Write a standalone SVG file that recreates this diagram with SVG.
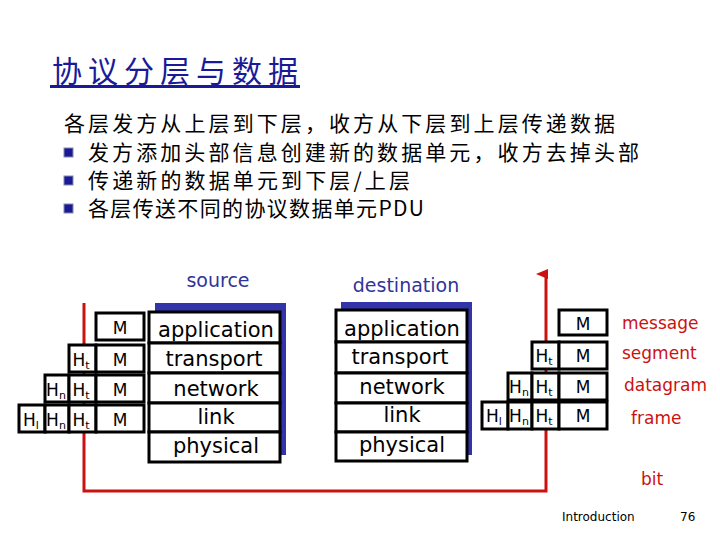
<svg xmlns="http://www.w3.org/2000/svg" width="720" height="540" viewBox="0 0 720 540">
<style>
.cn{font-family:"Noto Sans CJK SC","Liberation Sans",sans-serif;fill:#000}
.t{font-family:"DejaVu Sans","Liberation Sans",sans-serif}
.box{fill:#fff;stroke:#000;stroke-width:3}
.sh{fill:#3333aa}
.lay{font-family:"DejaVu Sans",sans-serif;font-size:21px;text-anchor:middle}
.h{font-family:"DejaVu Sans",sans-serif;font-size:17px;text-anchor:middle}
.red{font-family:"DejaVu Sans",sans-serif;font-size:17px;fill:#cc1111}
.bl{fill:#1a1a99;stroke:#8888aa;stroke-width:1}
</style>
<defs>
<marker id="ar" markerWidth="10" markerHeight="12" refX="5" refY="10" orient="auto" markerUnits="userSpaceOnUse"><path d="M0,12 L5,0 L10,12 Z" fill="#cc1111"/></marker>
</defs>
<g id="title">
<text x="52" y="82" class="cn" style="fill:#1a1a99" font-size="30" textLength="246">协议分层与数据</text>
<rect x="50" y="85" width="250" height="3" fill="#1a1a99"/>
</g>
<g id="bullets">
<text x="64" y="131" class="cn" font-size="21" textLength="551">各层发方从上层到下层，收方从下层到上层传递数据</text>
<rect x="64" y="148" width="9" height="9" class="bl"/>
<text x="88" y="160" class="cn" font-size="21" textLength="551">发方添加头部信息创建新的数据单元，收方去掉头部</text>
<rect x="64" y="176" width="9" height="9" class="bl"/>
<text x="88" y="188" class="cn" font-size="21" textLength="322">传递新的数据单元到下层/上层</text>
<rect x="64" y="204" width="9" height="9" class="bl"/>
<text x="88" y="216" class="cn" font-size="21" textLength="336">各层传送不同的协议数据单元PDU</text>
</g>
<g id="connectors" fill="none" stroke="#cc1111" stroke-width="3">
<polyline points="84,303 84,491 546,491 546,274" marker-end="url(#ar)"/>
</g>
<g id="source">
<text x="218" y="287" class="t" font-size="19" text-anchor="middle" fill="#333399">source</text>
<rect x="155" y="303" width="131" height="152" class="sh"/>
<rect x="149" y="312" width="131" height="31" class="box"/>
<rect x="149" y="343" width="131" height="30" class="box"/>
<rect x="149" y="373" width="131" height="30" class="box"/>
<rect x="149" y="403" width="131" height="29" class="box"/>
<rect x="149" y="432" width="131" height="30" class="box"/>
<text x="216" y="337" class="lay">application</text>
<text x="214" y="366" class="lay">transport</text>
<text x="216" y="396" class="lay">network</text>
<text x="216" y="424" class="lay">link</text>
<text x="216" y="453" class="lay">physical</text>
</g>
<g id="src-headers">
<rect x="96" y="313" width="48" height="27" class="box"/>
<text x="120" y="334" class="h">M</text>
<rect x="69" y="345" width="27" height="27" class="box"/><rect x="96" y="345" width="48" height="27" class="box"/>
<text x="81" y="366" class="h">H<tspan font-size="11" dy="3">t</tspan></text><text x="120" y="366" class="h">M</text>
<rect x="45" y="375" width="24" height="27" class="box"/><rect x="69" y="375" width="27" height="27" class="box"/><rect x="96" y="375" width="48" height="27" class="box"/>
<text x="56" y="396" class="h">H<tspan font-size="11" dy="3">n</tspan></text><text x="81" y="396" class="h">H<tspan font-size="11" dy="3">t</tspan></text><text x="120" y="396" class="h">M</text>
<rect x="19" y="405" width="26" height="27" class="box"/><rect x="45" y="405" width="24" height="27" class="box"/><rect x="69" y="405" width="27" height="27" class="box"/><rect x="96" y="405" width="48" height="27" class="box"/>
<text x="31" y="426" class="h">H<tspan font-size="11" dy="3">l</tspan></text><text x="56" y="426" class="h">H<tspan font-size="11" dy="3">n</tspan></text><text x="81" y="426" class="h">H<tspan font-size="11" dy="3">t</tspan></text><text x="120" y="426" class="h">M</text>
</g>
<g id="destination">
<text x="406" y="292" class="t" font-size="19" text-anchor="middle" fill="#333399">destination</text>
<rect x="341" y="302" width="131" height="153" class="sh"/>
<rect x="336" y="310" width="131" height="32" class="box"/>
<rect x="336" y="342" width="131" height="31" class="box"/>
<rect x="336" y="373" width="131" height="30" class="box"/>
<rect x="336" y="403" width="131" height="29" class="box"/>
<rect x="336" y="432" width="131" height="29" class="box"/>
<text x="402" y="336" class="lay">application</text>
<text x="400" y="364" class="lay">transport</text>
<text x="402" y="394" class="lay">network</text>
<text x="402" y="422" class="lay">link</text>
<text x="402" y="452" class="lay">physical</text>
</g>
<g id="dst-headers">
<rect x="559" y="310" width="48" height="25" class="box"/>
<text x="583" y="330" class="h">M</text>
<rect x="532" y="342" width="27" height="27" class="box"/><rect x="559" y="342" width="48" height="27" class="box"/>
<text x="544" y="362" class="h">H<tspan font-size="11" dy="3">t</tspan></text><text x="583" y="362" class="h">M</text>
<rect x="508" y="373" width="24" height="27" class="box"/><rect x="532" y="373" width="27" height="27" class="box"/><rect x="559" y="373" width="48" height="27" class="box"/>
<text x="519" y="393" class="h">H<tspan font-size="11" dy="3">n</tspan></text><text x="544" y="393" class="h">H<tspan font-size="11" dy="3">t</tspan></text><text x="583" y="393" class="h">M</text>
<rect x="482" y="402" width="26" height="27" class="box"/><rect x="508" y="402" width="24" height="27" class="box"/><rect x="532" y="402" width="27" height="27" class="box"/><rect x="559" y="402" width="48" height="27" class="box"/>
<text x="494" y="422" class="h">H<tspan font-size="11" dy="3">l</tspan></text><text x="519" y="422" class="h">H<tspan font-size="11" dy="3">n</tspan></text><text x="544" y="422" class="h">H<tspan font-size="11" dy="3">t</tspan></text><text x="583" y="422" class="h">M</text>
</g>
<g id="pdu-labels">
<text x="622" y="329" class="red">message</text>
<text x="622" y="359" class="red">segment</text>
<text x="624" y="391" class="red">datagram</text>
<text x="631" y="424" class="red">frame</text>
<text x="641" y="485" class="red">bit</text>
</g>
<g id="footer">
<text x="562" y="521" font-family="DejaVu Sans,sans-serif" font-size="12">Introduction</text>
<text x="680" y="521" font-family="DejaVu Sans,sans-serif" font-size="12">76</text>
</g>
</svg>
